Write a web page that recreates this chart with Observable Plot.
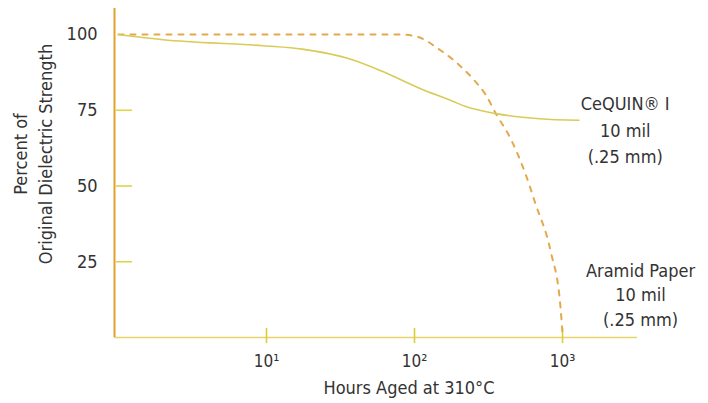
<!DOCTYPE html>
<html>
<head>
<meta charset="utf-8">
<script src="https://cdn.jsdelivr.net/npm/d3@7"></script>
<script src="https://cdn.jsdelivr.net/npm/@observablehq/plot@0.6"></script>
<style>
  html, body { margin: 0; padding: 0; background: #ffffff; }
  #chart { width: 708px; height: 403px; }
</style>
</head>
<body>
<div id="chart"></div>
<script>
// ---- data ----
const cequinHours   = [1, 2, 9.5, 17.4, 38, 61, 108, 181, 220, 355, 700, 1290];
const cequinPercent = [100, 98.3, 96.3, 95.2, 91.7, 87.8, 82.3, 78, 76.3, 73.9, 72.2, 71.7];

const aramidHours   = [1, 10, 50, 80, 100, 118, 138, 181, 246, 302, 363, 427, 562, 658, 830, 969, 1000];
const aramidPercent = [100, 100, 100, 100, 99.5, 98.2, 96, 91.8, 85.6, 80.2, 73, 67.4, 54, 44, 28.6, 10, 1];

const xTicks = [10, 100, 1000];
const xTickLabels = ["10\u00B9", "10\u00B2", "10\u00B3"];
const yTicks = [25, 50, 75, 100];

const cequinLabel = [{name: "CeQUIN\u00AE I\n10 mil\n(.25 mm)", x: 2650, y: 69.2}];
const aramidLabel = [{name: "Aramid Paper\n10 mil\n(.25 mm)", x: 3365, y: 14.5}];

const xDomain = [0.94, 3210];
const yDomain = [0, 108.6];

const cequin = cequinHours.map((h, i) => ({h, p: cequinPercent[i]}));
const aramid = aramidHours.map((h, i) => ({h, p: aramidPercent[i]}));

const FONT = '"Liberation Sans Narrow", "DejaVu Sans Condensed", Roboto, "Liberation Sans", sans-serif';

const chart = Plot.plot({
  width: 708,
  height: 403,
  marginLeft: 114,
  marginRight: 71,
  marginTop: 8,
  marginBottom: 66,
  style: {fontSize: "18px", fontFamily: FONT, fontStretch: "condensed", color: "#333", background: "#fff", overflow: "visible"},
  x: {type: "log", domain: xDomain, axis: null},
  y: {domain: yDomain, axis: null},
  marks: [
    // x axis line
    Plot.ruleY([0], {stroke: "#e3d56a", strokeWidth: 1.6}),
    // x ticks crossing the axis
    Plot.ruleX(xTicks, {y1: -2, y2: 3, stroke: "#dccd3a", strokeWidth: 1.6}),
    // y ticks, inside
    Plot.ruleY(yTicks.slice(0, 3), {x1: 0.97, x2: 1.245, stroke: "#dfd54a", strokeWidth: 1.6}),
    // y axis line
    Plot.ruleX([xDomain[0]], {stroke: "#e0a22e", strokeWidth: 2}),
    // tick labels
    Plot.axisX(xTicks, {tickSize: 0, tickPadding: 17, tickFormat: d => xTickLabels[xTicks.indexOf(d)], fontSize: 17, fill: "#333", label: null}),
    Plot.axisY(yTicks, {tickSize: 0, tickPadding: 17, fontSize: 18, fill: "#333", label: null}),
    // series
    Plot.line(aramid, {x: "h", y: "p", stroke: "#e2aa4c", strokeWidth: 2, strokeDasharray: "5,7", curve: "monotone-x"}),
    Plot.line(cequin, {x: "h", y: "p", stroke: "#d8cb58", strokeWidth: 1.6, curve: "monotone-x"}),
    // series labels
    Plot.text(cequinLabel, {x: "x", y: "y", text: "name", fontSize: 18, fill: "#333", lineHeight: 1.5, textAnchor: "middle"}),
    Plot.text(aramidLabel, {x: "x", y: "y", text: "name", fontSize: 18, fill: "#333", lineHeight: 1.36, textAnchor: "middle"}),
    // axis titles
    Plot.text(["Hours Aged at 310\u00B0C"], {frameAnchor: "bottom", dx: 33, dy: 51, fontSize: 18, fill: "#333", textAnchor: "middle", lineAnchor: "middle"}),
    Plot.text(["Percent of\nOriginal Dielectric Strength"], {frameAnchor: "left", rotate: -90, dx: -83, dy: -19, fontSize: 18, fill: "#333", lineHeight: 1.4, textAnchor: "middle", lineAnchor: "middle"})
  ]
});
document.getElementById("chart").appendChild(chart);
</script>
</body>
</html>
